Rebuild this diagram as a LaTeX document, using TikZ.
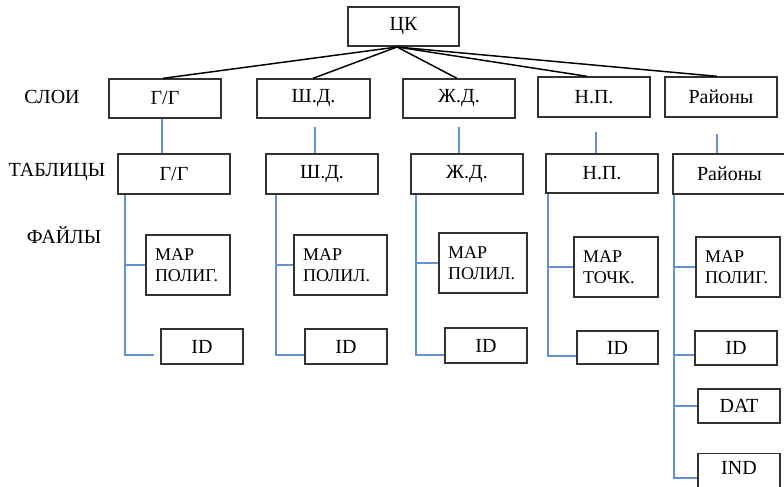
\documentclass[tikz,border=0pt]{standalone}
\usepackage{fontspec}
\setmainfont{Liberation Serif}
\definecolor{linkblue}{RGB}{100,145,210}
\definecolor{boxline}{RGB}{50,50,50}
\newcommand\bx[7][]{\node[box,#1, minimum width={(#5-#3)*0.75pt}, minimum height={(#6-#4)*0.75pt}] (#2) at ({(#3+#5)/2},{(#4+#6)/2}) {#7};}
\tikzset{
  box/.style={draw=boxline, line width=1pt, inner sep=0pt, font=\fontsize{15}{17}\selectfont},
  mapbox/.style={align=left, font=\fontsize{13.5}{15.5}\selectfont},
  conn/.style={draw=linkblue, line width=0.9pt},
  toplink/.style={draw=black, line width=1.1pt},
  rowlabel/.style={font=\fontsize{15}{17}\selectfont}
}
\begin{document}
\begin{tikzpicture}[x=0.75pt,y=-0.75pt]
\useasboundingbox (0,0) rectangle (784,486);
\clip (0,0) rectangle (784,486);
% top
\bx{ck}{348}{7}{459}{46}{ЦК}
% layers
\bx{lGG}{109}{79}{221}{118}{Г/Г}
\bx{lSD}{257}{79}{370}{118}{Ш.Д.}
\bx{lZD}{403}{79}{515}{118}{Ж.Д.}
\bx{lNP}{538}{77}{650}{117}{Н.П.}
\bx{lRA}{665}{77}{777}{117}{Районы}
% tables
\bx{tGG}{118}{154}{230}{194}{Г/Г}
\bx{tSD}{266}{154}{378}{194}{Ш.Д.}
\bx{tZD}{411}{154}{523}{194}{Ж.Д.}
\bx{tNP}{546}{154}{658}{193}{Н.П.}
\bx{tRA}{673}{154}{786}{194}{Районы}
% row labels
\node[rowlabel] (labL) at (52,97) {СЛОИ};
\node[rowlabel] (labT) at (57,172) {ТАБЛИЦЫ};
\node[rowlabel] (labF) at (64,235) {ФАЙЛЫ};
% files
\bx[mapbox, text width={(84-18)*0.75pt}]{fGGm}{146}{235}{230}{295}{MAP\\ПОЛИГ.}
\bx{fGGi}{161}{329}{243}{364}{ID}
\bx[mapbox, text width={(93-18)*0.75pt}]{fSDm}{294}{235}{387}{295}{MAP\\ПОЛИЛ.}
\bx{fSDi}{305}{329}{387}{364}{ID}
\bx[mapbox, text width={(88-18)*0.75pt}]{fZDm}{439}{233}{527}{293}{MAP\\ПОЛИЛ.}
\bx{fZDi}{445}{328}{527}{363}{ID}
\bx[mapbox, text width={(84-18)*0.75pt}]{fNPm}{574}{237}{658}{297}{MAP\\ТОЧК.}
\bx{fNPi}{577}{331}{658}{364}{ID}
\bx[mapbox, text width={(84-18)*0.75pt}]{fRAm}{696}{237}{780}{297}{MAP\\ПОЛИГ.}
\bx{fRAi}{695}{331}{777}{365}{ID}
\bx{fRAd}{698}{389}{780}{423}{DAT}
\node[box, anchor=base, minimum width={82*0.75pt}, text height=16pt, text depth=15.5pt] (fRAn) at (739,474.5) {IND};
% hub links
\coordinate (hub) at (397,47);
\draw[toplink] (hub) -- (lGG.north -| 163,0);
\draw[toplink] (hub) -- (lSD.north -| 313,0);
\draw[toplink] (hub) -- (lZD.north -| 457,0);
\draw[toplink] (hub) -- (lNP.north -| 587,0);
\draw[toplink] (hub) -- (lRA.north -| 717,0);
% layer -> table
\draw[conn] (lGG.south -| 162,0) -- (tGG.north -| 162,0);
\coordinate (sdTop) at (315,127);
\draw[conn] (sdTop) -- (tSD.north -| sdTop);
\coordinate (zdTop) at (459,127);
\draw[conn] (zdTop) -- (tZD.north -| zdTop);
\coordinate (npTop) at (596,132);
\draw[conn] (npTop) -- (tNP.north -| npTop);
\coordinate (raTop) at (717,134);
\draw[conn] (raTop) -- (tRA.north -| raTop);
% trunks
\coordinate (gB) at (125,355);
\draw[conn, shorten >=4.5pt] (tGG.south -| gB) -- (gB) -- (fGGi.west |- gB);
\draw[conn] (fGGm.west -| gB) -- (fGGm.west);
\coordinate (sB) at (276,355);
\draw[conn] (tSD.south -| sB) -- (sB) -- (fSDi.west |- sB);
\draw[conn] (fSDm.west -| sB) -- (fSDm.west);
\coordinate (zB) at (416,355);
\draw[conn] (tZD.south -| zB) -- (zB) -- (fZDi.west |- zB);
\draw[conn] (fZDm.west -| zB) -- (fZDm.west);
\coordinate (nB) at (548,356);
\draw[conn] (tNP.south -| nB) -- (nB) -- (fNPi.west |- nB);
\draw[conn] (fNPm.west -| nB) -- (fNPm.west);
\coordinate (rB) at (674,478);
\coordinate (rI) at (674,355);
\draw[conn] (tRA.south -| rB) -- (rB) -- (fRAn.west |- rB);
\draw[conn] (fRAm.west -| rB) -- (fRAm.west);
\draw[conn] (rI) -- (fRAi.west |- rI);
\draw[conn] (fRAd.west -| rB) -- (fRAd.west);
\end{tikzpicture}
\end{document}
